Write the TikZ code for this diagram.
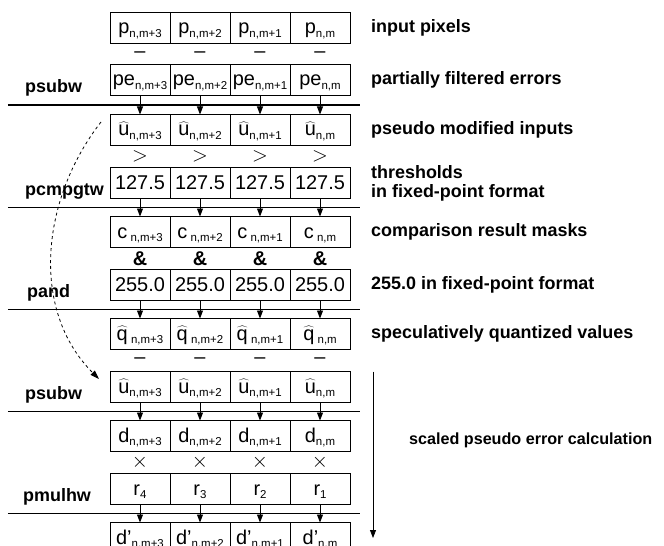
\documentclass[tikz,border=0pt]{standalone}
\usepackage{fontspec}
\setmainfont{Liberation Sans}
\usetikzlibrary{arrows.meta,calc,positioning}
\newcommand{\ix}[1]{\raisebox{-3.5bp}{\fontsize{11.5}{13}\selectfont #1}}
\newcommand{\hatc}[1]{$\widehat{\mbox{#1}}$}
\tikzset{
  cell/.style={draw, line width=0.9bp, minimum width=60bp, minimum height=31bp, inner sep=0pt, outer sep=0pt,
    font=\fontsize{20}{24}\selectfont, text height=15bp, text depth=3bp},
  opsym/.style={minimum height=22bp, inner sep=0pt, font=\fontsize{20}{22}\selectfont},
  arrow/.style={-{Triangle[length=8bp,width=6bp]}, line width=0.9bp}
}

\begin{document}
\begin{tikzpicture}[
  x=1bp, y=-1bp,
  instr/.style={font=\fontsize{18}{20}\selectfont\bfseries, inner sep=0pt},
  desc/.style={font=\fontsize{18}{19}\selectfont\bfseries, inner sep=0pt, align=left},
  sepline/.style={line width=1.1bp},
  spec/.style={-{Triangle[length=9bp,width=6bp]}, dashed, line width=0.8bp}
]
  \useasboundingbox (0,0) rectangle (664,546);
  \clip (0,0) rectangle (664,546);

  % --- input pixels ---
  \node[cell] (p1) at (140,28) {p\ix{n,m+3}};
  \node[cell, right=0pt of p1] (p2) {p\ix{n,m+2}};
  \node[cell, right=0pt of p2] (p3) {p\ix{n,m+1}};
  \node[cell, right=0pt of p3] (p4) {p\ix{n,m}};
  \node[opsym, below=0pt of p1] (sp1) {--}; \node[opsym, below=0pt of p2] (sp2) {--};
  \node[opsym, below=0pt of p3] (sp3) {--}; \node[opsym, below=0pt of p4] (sp4) {--};

  % --- psubw ---
  \node[cell, below=21bp of p1] (e1) {pe\ix{n,m+3}};
  \node[cell, right=0pt of e1] (e2) {pe\ix{n,m+2}};
  \node[cell, right=0pt of e2] (e3) {pe\ix{n,m+1}};
  \node[cell, right=0pt of e3] (e4) {pe\ix{n,m}};
  \node[instr, anchor=base west] (ins1) at ([xshift=-85bp,yshift=3bp]e1.south west) {psubw};

  \node[cell, below=19bp of e1] (u1) {\hatc{u}\ix{n,m+3}};
  \node[cell, right=0pt of u1] (u2) {\hatc{u}\ix{n,m+2}};
  \node[cell, right=0pt of u2] (u3) {\hatc{u}\ix{n,m+1}};
  \node[cell, right=0pt of u3] (u4) {\hatc{u}\ix{n,m}};
  \draw[sepline] ($(e1.south)!0.5!(u1.north)$) ++(-132bp,0) -- ++(352bp,0);
  \draw[arrow] (e1) -- (u1); \draw[arrow] (e2) -- (u2); \draw[arrow] (e3) -- (u3); \draw[arrow] (e4) -- (u4);
  \node[opsym, below=0pt of u1] (su1) {$>$}; \node[opsym, below=0pt of u2] (su2) {$>$};
  \node[opsym, below=0pt of u3] (su3) {$>$}; \node[opsym, below=0pt of u4] (su4) {$>$};

  % --- pcmpgtw ---
  \node[cell, below=22bp of u1] (t1) {127.5};
  \node[cell, right=0pt of t1] (t2) {127.5};
  \node[cell, right=0pt of t2] (t3) {127.5};
  \node[cell, right=0pt of t3] (t4) {127.5};
  \node[instr, anchor=base west] (ins2) at ([xshift=-85bp,yshift=3bp]t1.south west) {pcmpgtw};

  \node[cell, below=18bp of t1] (c1) {c\,\ix{n,m+3}};
  \node[cell, right=0pt of c1] (c2) {c\,\ix{n,m+2}};
  \node[cell, right=0pt of c2] (c3) {c\,\ix{n,m+1}};
  \node[cell, right=0pt of c3] (c4) {c\,\ix{n,m}};
  \draw[sepline] ($(t1.south)!0.5!(c1.north)$) ++(-132bp,0) -- ++(352bp,0);
  \draw[arrow] (t1) -- (c1); \draw[arrow] (t2) -- (c2); \draw[arrow] (t3) -- (c3); \draw[arrow] (t4) -- (c4);
  \node[opsym, below=0pt of c1] (sc1) {\bfseries\&}; \node[opsym, below=0pt of c2] (sc2) {\bfseries\&};
  \node[opsym, below=0pt of c3] (sc3) {\bfseries\&}; \node[opsym, below=0pt of c4] (sc4) {\bfseries\&};

  % --- pand ---
  \node[cell, below=22bp of c1] (k1) {255.0};
  \node[cell, right=0pt of k1] (k2) {255.0};
  \node[cell, right=0pt of k2] (k3) {255.0};
  \node[cell, right=0pt of k3] (k4) {255.0};
  \node[instr, anchor=base west] (ins3) at ([xshift=-83bp,yshift=3bp]k1.south west) {pand};

  \node[cell, below=18bp of k1] (q1) {\hatc{q}\,\ix{n,m+3}};
  \node[cell, right=0pt of q1] (q2) {\hatc{q}\,\ix{n,m+2}};
  \node[cell, right=0pt of q2] (q3) {\hatc{q}\,\ix{n,m+1}};
  \node[cell, right=0pt of q3] (q4) {\hatc{q}\,\ix{n,m}};
  \draw[sepline] ($(k1.south)!0.5!(q1.north)$) ++(-132bp,0) -- ++(352bp,0);
  \draw[arrow] (k1) -- (q1); \draw[arrow] (k2) -- (q2); \draw[arrow] (k3) -- (q3); \draw[arrow] (k4) -- (q4);
  \node[opsym, below=0pt of q1] (sq1) {--}; \node[opsym, below=0pt of q2] (sq2) {--};
  \node[opsym, below=0pt of q3] (sq3) {--}; \node[opsym, below=0pt of q4] (sq4) {--};

  % --- psubw ---
  \node[cell, below=22bp of q1] (v1) {\hatc{u}\ix{n,m+3}};
  \node[cell, right=0pt of v1] (v2) {\hatc{u}\ix{n,m+2}};
  \node[cell, right=0pt of v2] (v3) {\hatc{u}\ix{n,m+1}};
  \node[cell, right=0pt of v3] (v4) {\hatc{u}\ix{n,m}};
  \node[instr, anchor=base west] (ins4) at ([xshift=-85bp,yshift=3bp]v1.south west) {psubw};

  \node[cell, below=18bp of v1] (d1) {d\ix{n,m+3}};
  \node[cell, right=0pt of d1] (d2) {d\ix{n,m+2}};
  \node[cell, right=0pt of d2] (d3) {d\ix{n,m+1}};
  \node[cell, right=0pt of d3] (d4) {d\ix{n,m}};
  \draw[sepline] ($(v1.south)!0.5!(d1.north)$) ++(-132bp,0) -- ++(352bp,0);
  \draw[arrow] (v1) -- (d1); \draw[arrow] (v2) -- (d2); \draw[arrow] (v3) -- (d3); \draw[arrow] (v4) -- (d4);
  \node[opsym, below=0pt of d1] (sd1) {$\times$}; \node[opsym, below=0pt of d2] (sd2) {$\times$};
  \node[opsym, below=0pt of d3] (sd3) {$\times$}; \node[opsym, below=0pt of d4] (sd4) {$\times$};

  % --- pmulhw ---
  \node[cell, below=22bp of d1] (r1) {r\ix{4}};
  \node[cell, right=0pt of r1] (r2) {r\ix{3}};
  \node[cell, right=0pt of r2] (r3) {r\ix{2}};
  \node[cell, right=0pt of r3] (r4) {r\ix{1}};
  \node[instr, anchor=base west] (ins5) at ([xshift=-87bp,yshift=3bp]r1.south west) {pmulhw};

  \node[cell, below=18bp of r1] (w1) {d'\ix{n,m+3}};
  \node[cell, right=0pt of w1] (w2) {d'\ix{n,m+2}};
  \node[cell, right=0pt of w2] (w3) {d'\ix{n,m+1}};
  \node[cell, right=0pt of w3] (w4) {d'\ix{n,m}};
  \draw[sepline] ($(r1.south)!0.5!(w1.north)$) ++(-132bp,0) -- ++(352bp,0);
  \draw[arrow] (r1) -- (w1); \draw[arrow] (r2) -- (w2); \draw[arrow] (r3) -- (w3); \draw[arrow] (r4) -- (w4);

  % descriptions
  \node[desc, right=21bp of p4] (dp) {input pixels};
  \node[desc, right=21bp of e4] (de) {partially filtered errors};
  \node[desc, right=21bp of u4] (du) {pseudo modified inputs};
  \node[desc, right=21bp of t4] (dt) {thresholds\\in fixed-point format};
  \node[desc, right=21bp of c4] (dc) {comparison result masks};
  \node[desc, right=21bp of k4] (dk) {255.0 in fixed-point format};
  \node[desc, right=21bp of q4] (dq) {speculatively quantized values};
  \node[desc, right=59bp of d4, yshift=-4bp, font=\fontsize{16.2}{18}\selectfont\bfseries] (dd) {scaled pseudo error calculation};

  \coordinate (ctop) at ([xshift=23bp]v4.north east);
  \coordinate (cbot) at ([xshift=23bp]w4.east);
  \draw[arrow, line width=0.8bp] (ctop) -- (cbot);

  % reuse of the pseudo modified inputs
  \draw[spec] ([xshift=-9bp,yshift=8bp]u1.west) .. controls +(-60bp,-77bp) and +(-69bp,69bp) .. ([xshift=-11bp,yshift=8bp]v1.west);
\end{tikzpicture}
\end{document}
